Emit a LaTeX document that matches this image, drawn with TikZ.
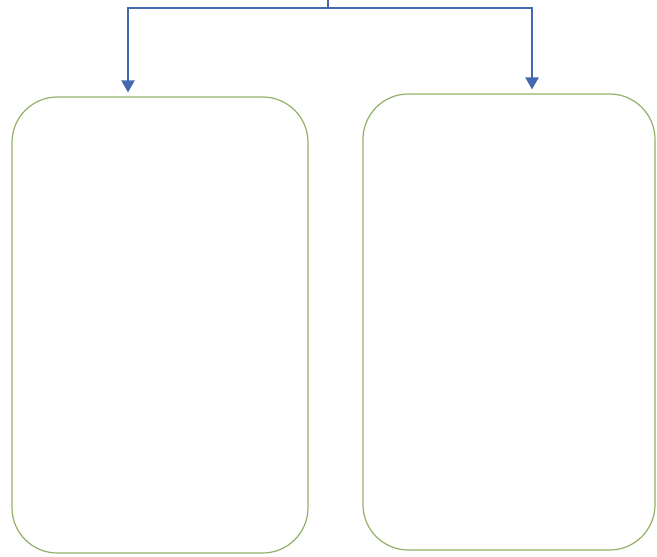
\documentclass[tikz,border=0pt]{standalone}
\usepackage{tikz}
\usetikzlibrary{arrows.meta,calc,positioning}
\definecolor{boxgreen}{RGB}{146,176,104}
\definecolor{linkblue}{RGB}{68,104,176}

\begin{document}
\begin{tikzpicture}[x=0.75pt,y=-0.75pt,>={Triangle[width=10pt,length=9pt]},
  panel/.style={draw=boxgreen,line width=0.9pt,rounded corners=34pt,fill=white,inner sep=0pt},
  link/.style={draw=linkblue,line width=1pt}]
  \useasboundingbox (0,0) rectangle (657,557);
  % two empty panels
  \node[panel,minimum width=222pt,minimum height=342pt] (leftbox) at (160,325) {};
  \node[panel,minimum width=219pt,minimum height=342pt] (rightbox) at (509,322) {};
  % branching connector
  \coordinate (top) at (328,0);
  \coordinate (split) at (328,8);
  \coordinate (la) at (128,8);
  \coordinate (ra) at (532,8);
  \draw[link] (top) -- (split);
  \draw[link,->,shorten >=3pt] (split) -| (la |- leftbox.north);
  \draw[link,->,shorten >=3pt] (split) -| (ra |- rightbox.north);
\end{tikzpicture}
\end{document}
